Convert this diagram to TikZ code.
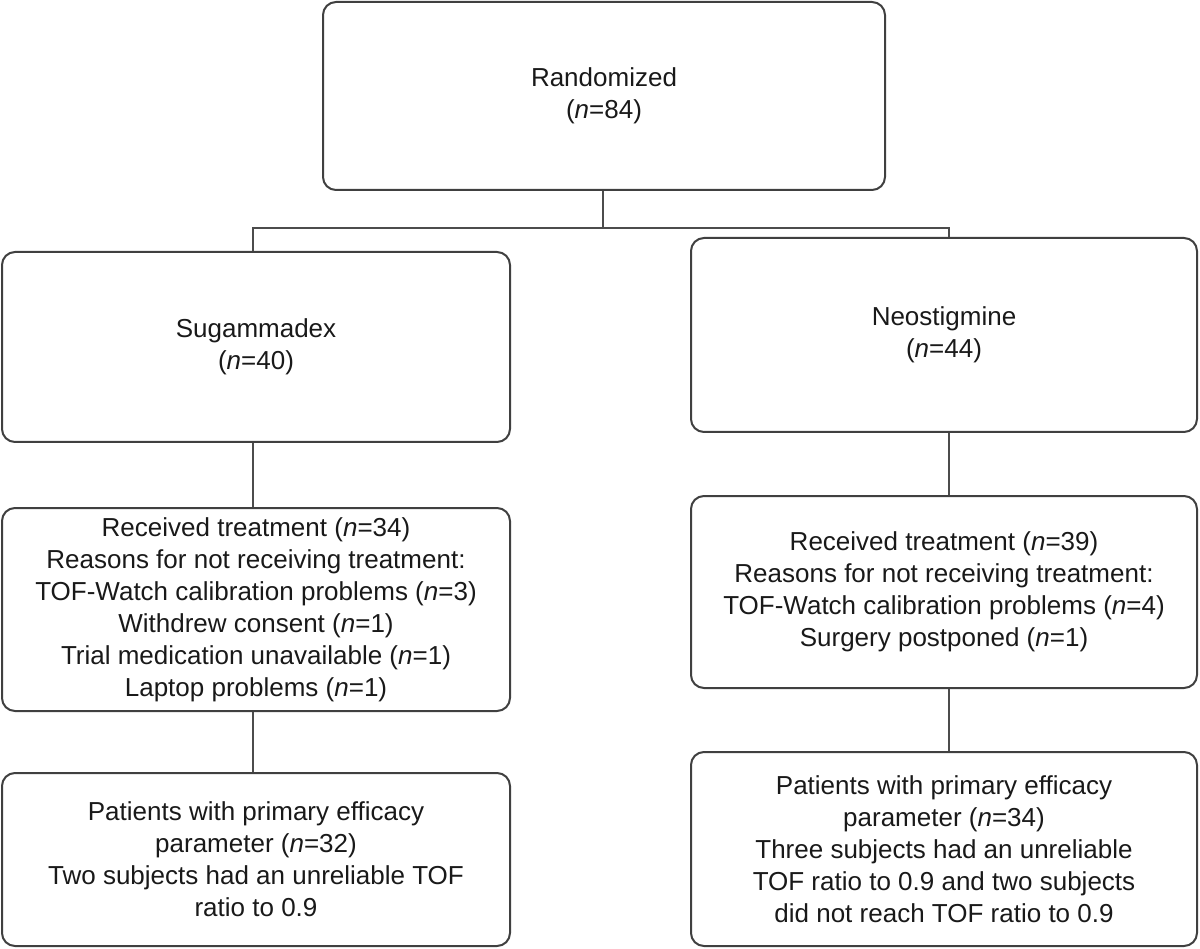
\documentclass[tikz,border=0pt]{standalone}
\usepackage{fontspec}
\setmainfont{Liberation Sans}
\begin{document}
\begin{tikzpicture}[x=1pt,y=-1pt,
  box/.style={draw=black!75, line width=2pt, rounded corners=13pt, align=center,
    inner sep=0pt, text=black!90, font=\fontsize{26}{32}\selectfont},
  link/.style={draw=black!70, line width=1.8pt}]
\useasboundingbox (0,0) rectangle (1200,949);
\node[box, minimum width=562pt, minimum height=188pt] (top) at (604,96) {Randomized\\(\textit{n}=84)};
\node[box, minimum width=508pt, minimum height=190pt] (sug) at (256,347) {Sugammadex\\(\textit{n}=40)};
\node[box, minimum width=506pt, minimum height=194pt] (neo) at (944,335) {Neostigmine\\(\textit{n}=44)};
\node[box, minimum width=508pt, minimum height=203pt] (recl) at (256,609.5) {Received treatment (\textit{n}=34)\\Reasons for not receiving treatment:\\TOF-Watch calibration problems (\textit{n}=3)\\Withdrew consent (\textit{n}=1)\\Trial medication unavailable (\textit{n}=1)\\Laptop problems (\textit{n}=1)};
\node[box, minimum width=506pt, minimum height=192pt] (recr) at (944,592) {Received treatment (\textit{n}=39)\\Reasons for not receiving treatment:\\TOF-Watch calibration problems (\textit{n}=4)\\Surgery postponed (\textit{n}=1)};
\node[box, minimum width=508pt, minimum height=173pt] (patl) at (256,859.5) {Patients with primary efficacy\\parameter (\textit{n}=32)\\Two subjects had an unreliable TOF\\ratio to 0.9};
\node[box, minimum width=506pt, minimum height=194pt] (patr) at (944,849) {Patients with primary efficacy\\parameter (\textit{n}=34)\\Three subjects had an unreliable\\TOF ratio to 0.9 and two subjects\\did not reach TOF ratio to 0.9};
\coordinate (jl) at (253,228);
\coordinate (jr) at (949,228);
\coordinate (jm) at (603,228);
\draw[link] (top.south -| jm) -- (jm);
\draw[link] (jl |- sug.north) -- (jl) -- (jr) -- (jr |- neo.north);
\draw[link] (sug.south -| jl) -- (recl.north -| jl);
\draw[link] (recl.south -| jl) -- (patl.north -| jl);
\draw[link] (neo.south -| jr) -- (recr.north -| jr);
\draw[link] (recr.south -| jr) -- (patr.north -| jr);
\end{tikzpicture}
\end{document}
